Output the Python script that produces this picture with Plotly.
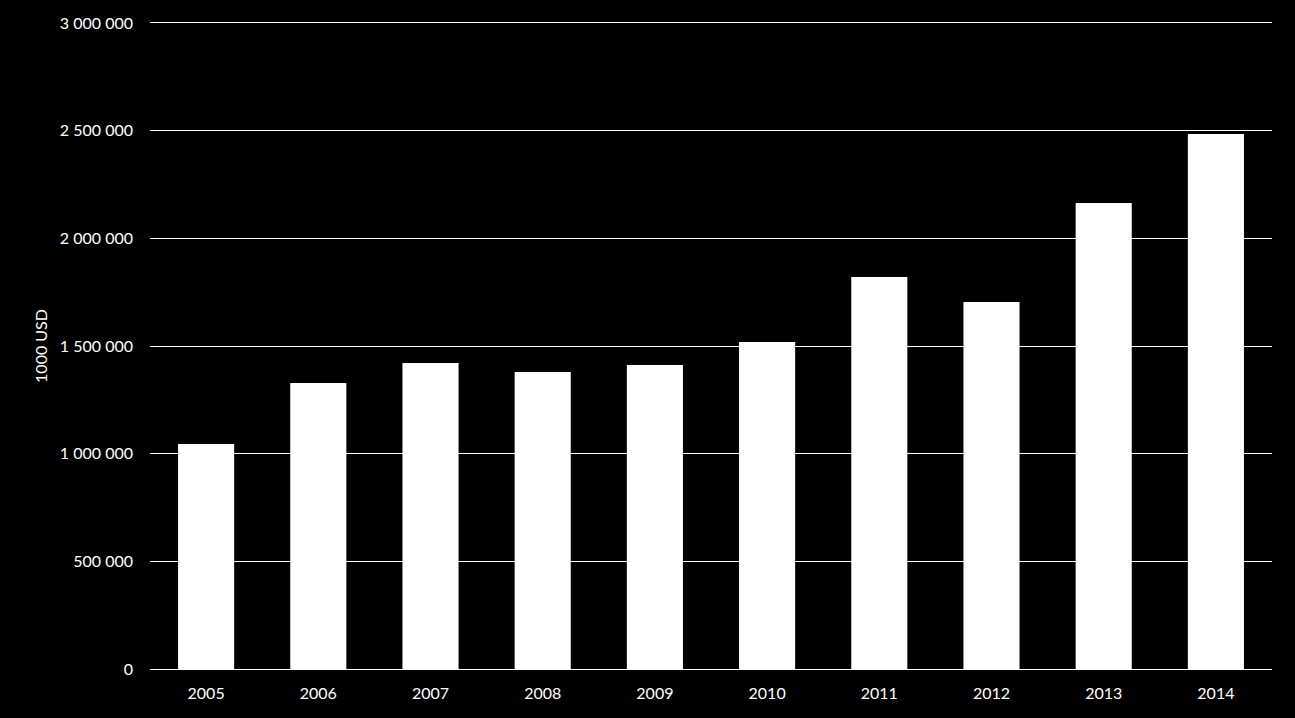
import plotly.graph_objects as go

years = ["2005", "2006", "2007", "2008", "2009", "2010", "2011", "2012", "2013", "2014"]
values = [1045000, 1328000, 1421000, 1379000, 1412000, 1519000, 1820000, 1704000, 2164000, 2484000]
tick_vals = [0, 500000, 1000000, 1500000, 2000000, 2500000, 3000000]
tick_text = ["0", "500 000", "1 000 000", "1 500 000", "2 000 000", "2 500 000", "3 000 000"]

FONT = "Lato"

fig = go.Figure(go.Bar(x=years, y=values, marker=dict(color="white", line=dict(width=0)), width=0.5))

fig.update_layout(
    width=1295, height=718,
    paper_bgcolor="black", plot_bgcolor="black",
    margin=dict(l=150, r=23, t=23, b=49),
    font=dict(family=FONT, size=16, color="white"),
    showlegend=False,
    bargap=0.5,
)
fig.update_xaxes(
    type="category", showgrid=False, zeroline=False,
    showline=True, linecolor="white", linewidth=1, mirror=True,
    ticks="", tickfont=dict(size=16, color="white"), ticklabelstandoff=10,
)
fig.update_yaxes(
    range=[0, 3000000], tickvals=tick_vals, ticktext=tick_text,
    showgrid=True, gridcolor="white", gridwidth=1,
    zeroline=False, showline=False, ticks="",
    tickfont=dict(size=16, color="white"), ticklabelstandoff=16,
    title=dict(text="1000 USD", font=dict(size=16, color="white"), standoff=8),
)

fig.write_html("out.html")
